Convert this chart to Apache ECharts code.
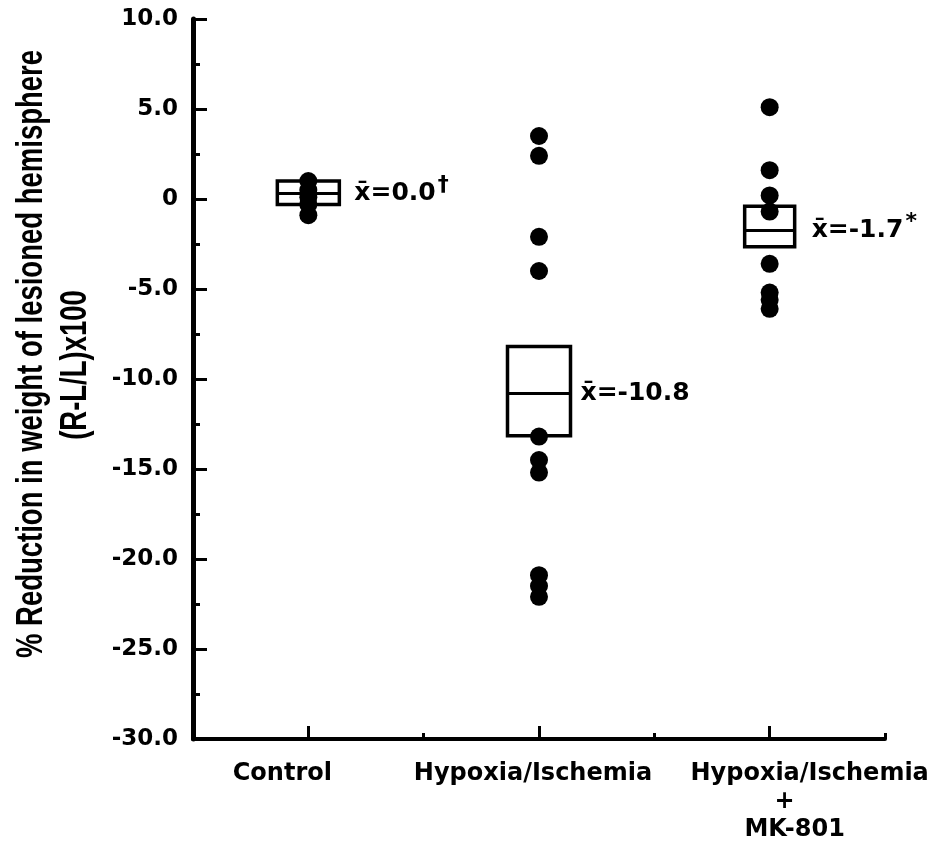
<!DOCTYPE html>
<html>
<head>
<meta charset="utf-8">
<script src="https://cdn.jsdelivr.net/npm/echarts@6/dist/echarts.min.js"></script>
<style>html,body{margin:0;padding:0;background:#fff;}#c{width:934px;height:844px;}</style>
</head>
<body>
<div id="c"></div>
<script>
// ---- data ----
const categories = ['Control', 'Hypoxia/Ischemia', 'Hypoxia/Ischemia\n+\nMK-801'];
const controlVals = [1.0, 0.5, 0.1, -0.3, -0.9];
const hiVals = [3.5, 2.4, -2.1, -4.0, -13.2, -14.5, -15.2, -20.9, -21.5, -22.1];
const mkVals = [5.1, 1.6, 0.2, -0.7, -3.6, -5.2, -5.6, -6.1];
const boxLow = [-0.3, -13.15, -2.65];
const boxHigh = [1.0, -8.2, -0.4];
const meanLine = [0.3, -10.8, -1.75];
const meanText = ['0.0', '-10.8', '-1.7'];
const meanMark = ['†', '', '*'];
const yTicks = [-30, -25, -20, -15, -10, -5, 0, 5, 10];
const yTickLabels = ['-30.0', '-25.0', '-20.0', '-15.0', '-10.0', '-5.0', '0', '5.0', '10.0'];
const yTitle1 = '% Reduction in weight of lesioned hemisphere';
const yTitle2 = '(R-L/L)x100';

// ---- styles ----
const boxHalfWidth = [31, 31.5, 25];
const labelGap = [15, 10, 17];
// horizontal shift (px) of each category label line, as in the original figure
const labelLineShift = [[-26], [-6], [40, 15, 25]];
const FONT = '"DejaVu Sans", sans-serif';

const chart = echarts.init(document.getElementById('c'), null, {renderer: 'canvas'});

const pts = [];
[controlVals, hiVals, mkVals].forEach((arr, i) => arr.forEach(v => pts.push([i, v])));
const boxData = categories.map((c, i) => [i, boxLow[i], boxHigh[i], meanLine[i]]);

const rich = {};
labelLineShift.forEach((arr, i) => arr.forEach((s, j) => {
  rich['l' + i + '_' + j] = {
    fontFamily: FONT, fontWeight: 'bold', fontSize: 24, color: '#000', lineHeight: 28,
    padding: s >= 0 ? [0, 0, 0, 2 * s] : [0, -2 * s, 0, 0]
  };
}));

const option = {
  animation: false,
  backgroundColor: '#fff',
  grid: {left: 193, right: 49, top: 19, bottom: 101, containLabel: false},
  xAxis: [{
    type: 'category', data: categories, boundaryGap: true, position: 'bottom', offset: 0,
    axisLine: {show: true, onZero: false, lineStyle: {color: '#000', width: 4}},
    axisTick: {show: true, inside: true, alignWithLabel: true, length: 13, lineStyle: {color: '#000', width: 3}},
    axisLabel: {
      color: '#000', fontFamily: FONT, fontWeight: 'bold', fontSize: 24, margin: 21, lineHeight: 28, interval: 0,
      formatter: (v, idx) => v.split('\n').map((line, j) => '{l' + idx + '_' + j + '|' + line + '}').join('\n'),
      rich: rich
    },
    splitLine: {show: false}
  }, {
    type: 'category', data: categories, boundaryGap: true, position: 'bottom', offset: 0,
    axisLine: {show: false, onZero: false},
    axisTick: {show: true, inside: true, length: 6, lineStyle: {color: '#000', width: 3}},
    axisLabel: {show: false},
    splitLine: {show: false}
  }],
  yAxis: {
    type: 'value', min: -30, max: 10, interval: 5,
    axisLine: {show: true, lineStyle: {color: '#000', width: 5}},
    axisTick: {show: true, inside: true, length: 14, lineStyle: {color: '#000', width: 3}},
    minorTick: {show: true, splitNumber: 2, length: 7, lineStyle: {color: '#000', width: 3}},
    axisLabel: {
      color: '#000', fontFamily: FONT, fontWeight: 'bold', fontSize: 23, margin: 15,
      formatter: v => { const k = yTicks.indexOf(Math.round(v)); return k >= 0 ? yTickLabels[k] : ''; }
    },
    splitLine: {show: false}
  },
  graphic: [
    {type: 'text', x: 32, y: 354, rotation: Math.PI / 2, scaleY: 1.35,
     style: {text: yTitle1, fill: '#000', font: 'bold 27.5px "Liberation Sans", Arial, sans-serif', align: 'center', verticalAlign: 'middle'}},
    {type: 'text', x: 76, y: 365, rotation: Math.PI / 2, scaleY: 1.35,
     style: {text: yTitle2, fill: '#000', font: 'bold 27.5px "Liberation Sans", Arial, sans-serif', align: 'center', verticalAlign: 'middle'}}
  ],
  series: [{
    type: 'custom',
    xAxisIndex: 0,
    data: boxData,
    z: 2,
    renderItem: function (params, api) {
      const idx = params.dataIndex;
      const i = api.value(0);
      const pLo = api.coord([i, api.value(1)]);
      const pHi = api.coord([i, api.value(2)]);
      const pM = api.coord([i, api.value(3)]);
      const hw = boxHalfWidth[idx];
      return {
        type: 'group',
        children: [
          {type: 'rect', shape: {x: pLo[0] - hw, y: pHi[1], width: 2 * hw, height: pLo[1] - pHi[1]},
           style: {fill: 'none', stroke: '#000', lineWidth: 3.5}},
          {type: 'line', shape: {x1: pM[0] - hw, y1: pM[1], x2: pM[0] + hw, y2: pM[1]},
           style: {stroke: '#000', lineWidth: 3}},
          {type: 'text', x: pM[0] + hw + labelGap[idx], y: pM[1],
           style: {
             text: '{a|x\u0304=' + meanText[idx] + '}' + (meanMark[idx] ? '{s|' + meanMark[idx] + '}' : ''),
             verticalAlign: 'middle', align: 'left',
             rich: {
               a: {fontFamily: FONT, fontWeight: 'bold', fontSize: 25, fill: '#000', lineHeight: 30},
               s: {fontFamily: FONT, fontWeight: 'bold', fontSize: 22, fill: '#000', lineHeight: 30, padding: [0, 0, 12, 2], verticalAlign: 'bottom'}
             }
           }}
        ]
      };
    }
  }, {
    type: 'scatter',
    xAxisIndex: 0,
    data: pts,
    symbol: 'circle',
    symbolSize: 18,
    itemStyle: {color: '#000', opacity: 1},
    z: 3
  }]
};
chart.setOption(option);
</script>
</body>
</html>
